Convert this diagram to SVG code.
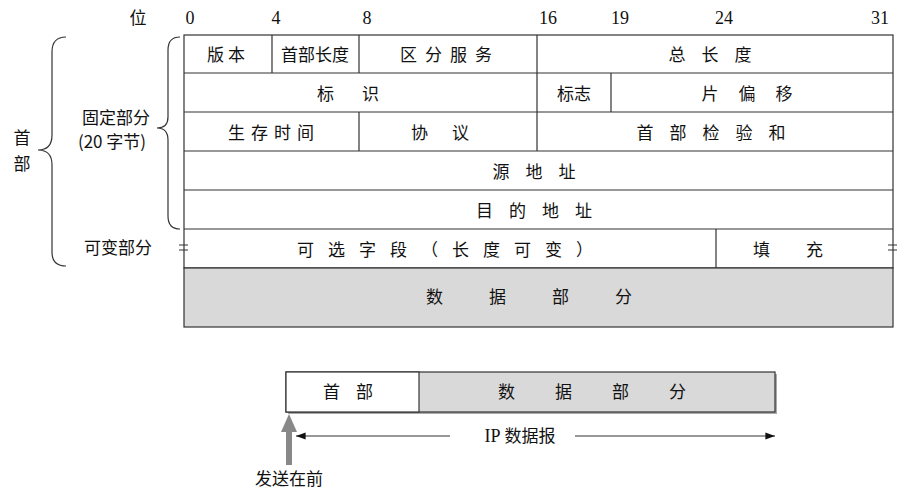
<svg xmlns="http://www.w3.org/2000/svg" width="922" height="501" viewBox="0 0 922 501">
<style>
text{font-family:"Liberation Serif","Noto Sans CJK SC",serif;font-size:18px;fill:#111;text-anchor:middle}
.c{font-family:"Noto Sans CJK SC",sans-serif;font-size:17px;white-space:pre}
.cell{fill:#fff;stroke:#333;stroke-width:1.2}
.gray{fill:#d9d9d9;stroke:#333;stroke-width:1.2}
.ln{stroke:#333;stroke-width:1.2;fill:none}
</style>
<defs><marker id="ah" markerWidth="8" markerHeight="6" refX="8" refY="3" orient="auto"><path d="M0,0L8,3L0,6z" fill="#111"/></marker></defs>
<rect width="922" height="501" fill="#fff"/>
<g id="bits">
<text x="138" y="24" class="c">位</text>
<text x="190" y="24">0</text><text x="276" y="24">4</text><text x="367" y="24">8</text>
<text x="548" y="24">16</text><text x="620" y="24">19</text><text x="724" y="24">24</text><text x="880" y="24">31</text>
</g>
<g id="header">
<rect class="cell" x="184" y="35" width="709" height="233"/>
<path class="ln" d="M184 73H893M184 112H893M184 151H893M184 190H893M184 229H893M272 35V73M359 35V73M537 35V151M611 73V112M359 112V151M716 229V268"/>
<text class="c" x="228" y="61" letter-spacing="4">版本</text>
<text class="c" x="315" y="61">首部长度</text>
<text class="c" x="450" y="61" letter-spacing="8">区分服务</text>
<text class="c" x="718" y="61" letter-spacing="16">总长度</text>
<text class="c" x="362" y="100" letter-spacing="28">标识</text>
<text class="c" x="574" y="100">标志</text>
<text class="c" x="757" y="100" letter-spacing="20">片偏移</text>
<text class="c" x="274" y="139" letter-spacing="6">生存时间</text>
<text class="c" x="452" y="139" letter-spacing="24">协议</text>
<text class="c" x="719" y="139" letter-spacing="16">首部检验和</text>
<text class="c" x="542" y="178" letter-spacing="16">源地址</text>
<text class="c" x="542" y="217" letter-spacing="16">目的地址</text>
<text class="c" x="452" y="256" letter-spacing="14">可选字段（长度可变）</text>
<text class="c" x="806" y="256" letter-spacing="36">填充</text>
<path class="ln" d="M179 245h9M179 250h9M888 245h9M888 250h9" stroke-width="1.8"/>
</g>
<g id="data"><rect class="gray" x="184" y="268" width="709" height="59"/>
<text class="c" x="552" y="303" letter-spacing="46">数据部分</text></g>
<g id="labels">
<path class="ln" d="M66 37Q52 37 52 52V135Q52 150 38 150Q52 150 52 165V252Q52 266 66 266"/>
<path class="ln" d="M180 37Q168 37 168 50V117Q168 128 157 128Q168 128 168 140V216Q168 229 180 229"/>
<text class="c" x="22" y="144">首</text><text class="c" x="22" y="170">部</text>
<text class="c" x="116" y="124">固定部分</text>
<text class="c" x="112" y="148">(20 字节)</text>
<text class="c" x="118" y="254">可变部分</text>
</g>
<g id="datagram">
<rect x="288" y="374" width="489" height="40" fill="#aaa"/>
<rect class="gray" x="286" y="372" width="489" height="40"/>
<rect class="cell" x="286" y="372" width="133" height="40"/>
<text class="c" x="356" y="398" letter-spacing="16">首部</text>
<text class="c" x="612" y="398" letter-spacing="40">数据部分</text>
</g>
<g id="connectors">
<path class="ln" d="M450 436H296" marker-end="url(#ah)"/>
<path class="ln" d="M575 436H775" marker-end="url(#ah)"/>
<text x="520" y="442">IP <tspan class="c">数据报</tspan></text>
<path d="M286 465V432h-5l8-18 8 18h-5V465z" fill="#888"/>
<text class="c" x="289" y="485">发送在前</text>
</g>
</svg>
